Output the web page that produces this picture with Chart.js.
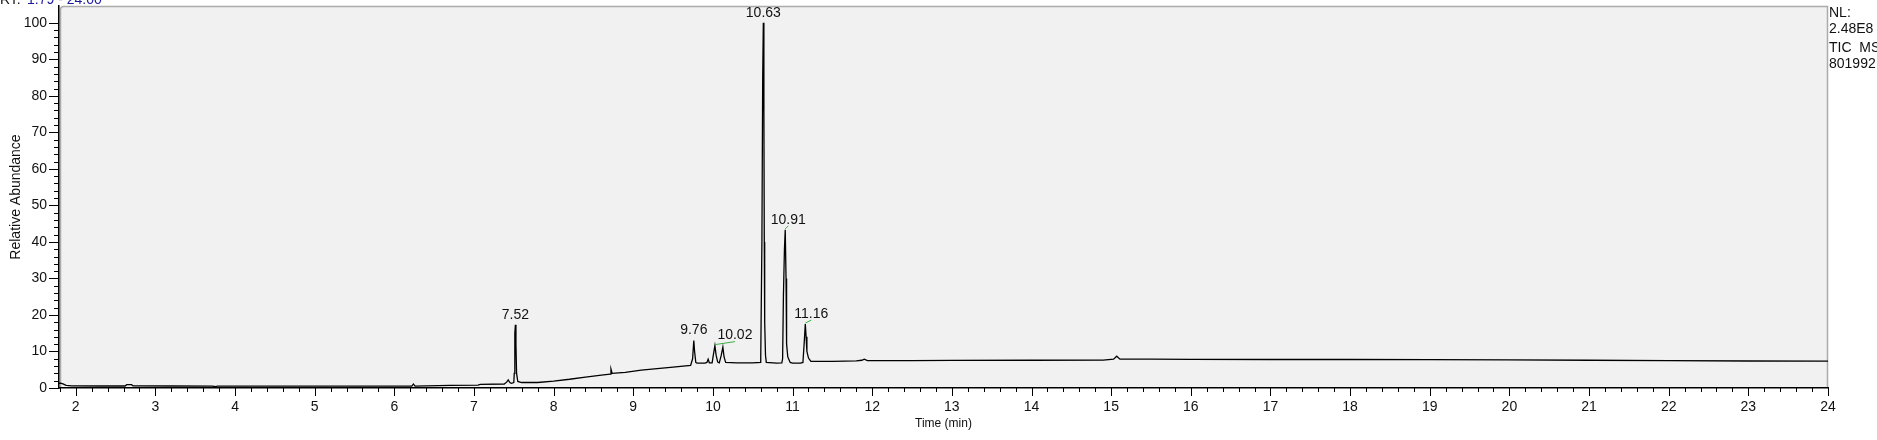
<!DOCTYPE html>
<html>
<head>
<meta charset="utf-8">
<script src="https://cdn.jsdelivr.net/npm/chart.js@4.4.1/dist/chart.umd.min.js"></script>
<style>
  html, body { margin: 0; padding: 0; background: #fff; }
  canvas { display: block; }
</style>
</head>
<body>
<canvas id="tic" width="1877" height="440"></canvas>
<script>
// retention time (min) and relative abundance (%)
const times = [
  1.79, 1.81, 1.84, 1.88, 1.95, 2.3, 2.62, 2.64, 2.70, 2.72,
  3.2, 3.72, 3.75, 3.78, 4.5, 5.5, 6.22, 6.24, 6.26, 6.7,
  7.05, 7.08, 7.38, 7.41, 7.43, 7.45, 7.47, 7.50, 7.506, 7.513,
  7.52, 7.527, 7.535, 7.55, 7.6, 7.8, 8.0, 8.2, 8.4, 8.6,
  8.71, 8.72, 8.735, 8.9, 9.1, 9.3, 9.5, 9.72, 9.745, 9.76,
  9.77, 9.785, 9.80, 9.9, 9.925, 9.94, 9.955, 9.99, 10.005, 10.025,
  10.04, 10.06, 10.08, 10.105, 10.125, 10.14, 10.16, 10.3, 10.5, 10.60,
  10.615, 10.625, 10.633, 10.64, 10.645, 10.65, 10.66, 10.67, 10.8, 10.865,
  10.875, 10.885, 10.898, 10.908, 10.918, 10.925, 10.94, 10.97, 11.0, 11.1,
  11.13, 11.145, 11.16, 11.17, 11.18, 11.2, 11.23, 11.5, 11.8, 11.87,
  11.9, 11.94, 12.5, 13.0, 14.0, 14.9, 15.03, 15.07, 15.11, 15.5,
  16.0, 17.0, 18.0, 19.0, 20.0, 21.0, 22.0, 23.0, 24.0
];
const abundance = [
  1.3, 1.3, 1.1, 0.7, 0.6, 0.55, 0.55, 0.9, 0.9, 0.6,
  0.55, 0.5, 0.35, 0.5, 0.5, 0.5, 0.5, 1.1, 0.5, 0.7,
  0.8, 1.0, 1.1, 1.6, 2.2, 1.5, 1.3, 1.5, 4, 15,
  17.3, 12, 4, 1.8, 1.5, 1.5, 1.9, 2.4, 3.0, 3.5,
  3.8, 5.2, 4.0, 4.3, 4.9, 5.3, 5.7, 6.2, 8, 13.0,
  10, 7, 6.8, 6.8, 7.0, 7.9, 6.9, 6.9, 9, 11.6,
  9, 7.1, 6.9, 9, 11.2, 8.5, 7.0, 6.9, 6.9, 7.0,
  40, 85, 100, 75, 40, 18, 9, 7.0, 6.8, 6.9,
  8, 25, 38, 43.3, 30, 12, 8.5, 7.0, 6.8, 6.8,
  7.0, 12, 17.5, 14, 10, 8.2, 7.3, 7.3, 7.4, 7.6,
  7.9, 7.5, 7.5, 7.55, 7.6, 7.65, 7.9, 8.7, 7.9, 7.9,
  7.85, 7.8, 7.8, 7.75, 7.7, 7.6, 7.5, 7.4, 7.35
];

// labelled peaks
const peakTimes = [7.52, 9.76, 10.02, 10.63, 10.91, 11.16];
const peakLabels = ['7.52', '9.76', '10.02', '10.63', '10.91', '11.16'];

// axis ticks
const xTickValues = [2, 3, 4, 5, 6, 7, 8, 9, 10, 11, 12, 13, 14, 15, 16, 17, 18, 19, 20, 21, 22, 23, 24];
const yTickValues = [0, 10, 20, 30, 40, 50, 60, 70, 80, 90, 100];

const infoLines = ['NL:', '2.48E8', 'TIC  MS', '801992'];
const rangeLabel = 'RT:';
const rangeValue = '1.79 - 24.00';

const xMin = 1.79, xMax = 24.0;
const yMin = 0, yMax = 104.6;

// style bits (kept apart from the data)
const labelNudge = [0, 0, 20, 0, 3, 6];
const leader = [false, false, true, false, true, true];
const fontFamily = 'Arial, "Liberation Sans", sans-serif';
const infoBaselines = [17, 33, 52, 68];

const points = times.map((t, i) => ({x: t, y: abundance[i]}));

function apexOf(t) {
  let best = null;
  times.forEach((tt, i) => {
    if (Math.abs(tt - t) < 0.016 && (best === null || abundance[i] > abundance[best])) best = i;
  });
  return best;
}

function fixedSize(w, h) {
  return s => {
    if (w) s.width = w;
    if (h) s.height = h;
    // no extra room for half labels at the ends
    s.paddingTop = 0; s.paddingBottom = 0; s.paddingLeft = 0; s.paddingRight = 0;
  };
}

const chromPlugin = {
  id: 'chrom',
  beforeDraw(chart) {
    const {ctx, chartArea: a} = chart;
    ctx.save();
    ctx.fillStyle = '#f1f1f1';
    ctx.fillRect(a.left, a.top, a.right - a.left, a.bottom - a.top);
    ctx.strokeStyle = '#ababab';
    ctx.lineWidth = 1.5;
    ctx.beginPath();
    ctx.moveTo(a.left + 1.5, a.bottom);
    ctx.lineTo(a.left + 1.5, a.top + 4);
    ctx.quadraticCurveTo(a.left + 1.5, a.top + 0.5, a.left + 5, a.top + 0.5);
    ctx.lineTo(a.right - 0.5, a.top + 0.5);
    ctx.lineTo(a.right - 0.5, a.bottom);
    ctx.stroke();
    ctx.restore();
  },
  afterDraw(chart) {
    const {ctx, chartArea: a} = chart;
    const xs = chart.scales.x, ys = chart.scales.y;
    ctx.save();

    // tick marks: majors long, minors short
    ctx.strokeStyle = '#000';
    ctx.lineWidth = 1;
    ctx.beginPath();
    for (let i = Math.ceil(xMin * 5); i <= Math.floor(xMax * 5 + 0.001); i++) {
      const px = Math.round(xs.getPixelForValue(i / 5)) + 0.5;
      const len = i % 5 === 0 ? 8 : 4;
      ctx.moveTo(px, a.bottom);
      ctx.lineTo(px, a.bottom + len);
    }
    for (let i = 0; i * 2 <= 100; i++) {
      const py = Math.round(ys.getPixelForValue(i * 2)) + 0.5;
      const len = i % 5 === 0 ? 10 : 5;
      ctx.moveTo(a.left, py);
      ctx.lineTo(a.left - len, py);
    }
    ctx.stroke();

    // peak labels
    ctx.font = '14px ' + fontFamily;
    ctx.textAlign = 'center';
    ctx.textBaseline = 'middle';
    peakTimes.forEach((t, k) => {
      const i = apexOf(t);
      const px = xs.getPixelForValue(times[i]);
      const py = ys.getPixelForValue(abundance[i]);
      const lx = px + labelNudge[k];
      const ly = py - 10;
      if (leader[k]) {
        ctx.strokeStyle = '#3cb043';
        ctx.beginPath();
        ctx.moveTo(px, py - 1);
        ctx.lineTo(lx, ly + 6);
        ctx.stroke();
      }
      ctx.fillStyle = '#111';
      ctx.fillText(peakLabels[k], lx, ly);
    });

    // normalisation block on the right
    ctx.textAlign = 'left';
    ctx.textBaseline = 'alphabetic';
    ctx.fillStyle = '#111';
    infoLines.forEach((s, k) => ctx.fillText(s, a.right + 1, infoBaselines[k]));

    // clipped range header at the very top
    ctx.fillText(rangeLabel, 0, 4);
    ctx.fillStyle = '#1a1aa0';
    ctx.fillText(rangeValue, 27, 4);
    ctx.restore();
  }
};

const config = {
  type: 'line',
  data: {
    datasets: [{
      label: 'TIC',
      data: points,
      borderColor: '#000',
      borderWidth: 1.3,
      pointRadius: 0,
      tension: 0,
      fill: false
    }]
  },
  options: {
    responsive: false,
    animation: false,
    devicePixelRatio: 1,
    layout: {padding: {top: 6, right: 49, left: 0, bottom: 0}},
    plugins: {legend: {display: false}, tooltip: {enabled: false}},
    scales: {
      x: {
        type: 'linear',
        min: xMin,
        max: xMax,
        afterBuildTicks: s => { s.ticks = xTickValues.map(v => ({value: v})); },
        afterFit: fixedSize(0, 52),
        grid: {drawOnChartArea: false, drawTicks: false},
        border: {display: true, color: '#000', width: 1.5},
        ticks: {
          autoSkip: false,
          maxRotation: 0,
          padding: 11,
          color: '#111',
          font: {family: fontFamily, size: 14}
        },
        title: {
          display: true,
          text: 'Time (min)',
          color: '#111',
          font: {family: fontFamily, size: 12},
          padding: {top: 0, bottom: 9}
        }
      },
      y: {
        min: yMin,
        max: yMax,
        afterBuildTicks: s => { s.ticks = yTickValues.map(v => ({value: v})); },
        afterFit: fixedSize(59, 0),
        grid: {drawOnChartArea: false, drawTicks: false},
        border: {display: true, color: '#000', width: 1.5},
        ticks: {
          autoSkip: false,
          padding: 12,
          color: '#111',
          font: {family: fontFamily, size: 14}
        },
        title: {
          display: true,
          text: 'Relative Abundance',
          color: '#111',
          font: {family: fontFamily, size: 14},
          padding: {top: 8, bottom: 0}
        }
      }
    }
  },
  plugins: [chromPlugin]
};

const tic = new Chart(document.getElementById('tic'), config);
</script>
</body>
</html>
